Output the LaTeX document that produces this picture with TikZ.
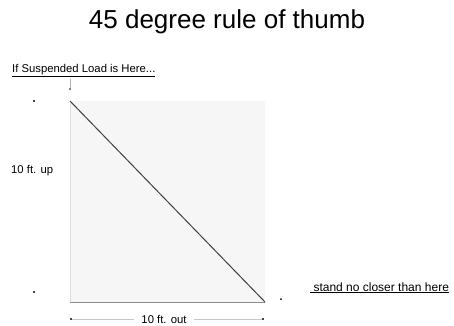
\documentclass[tikz,border=0pt]{standalone}
\usepackage{fontspec}
\setmainfont{Liberation Sans}
\usetikzlibrary{positioning}
\definecolor{stipple}{gray}{0.965}
\definecolor{edgegray}{gray}{0.55}

\begin{document}
\begin{tikzpicture}[x=1pt, y=-1pt,
  lbl/.style={font=\fontsize{11.3}{13}\selectfont, inner sep=0pt},
  dot/.style={circle, fill=black, inner sep=0pt, minimum size=2.4pt},
  edge/.style={draw=edgegray, line width=0.9pt},
  dimline/.style={draw=gray!45, line width=0.7pt},
]
\useasboundingbox (0,0) rectangle (454,325);

% ---- Title ----
\node[font=\fontsize{26}{30}\selectfont, anchor=base] (title) at (227,28)
  {45 degree rule of thumb};

% ---- Load position ----
\node[lbl, anchor=base west] (load) at (12,72)
  {\underline{If Suspended Load is Here...}};
\coordinate (tick) at (70,79);
\node[dot, minimum size=1.8pt] (tickend) at (70,89) {};
\draw[gray!60, line width=0.6pt] (tick) -- (tickend);

% ---- Square and 45 degree line ----
\coordinate (tl) at (70,101);
\coordinate (bl) at (70,302);
\coordinate (br) at (265,302);
\coordinate (tr) at (265,101);
\fill[stipple] (tl) rectangle (br);
\draw[gray!25, line width=0.7pt] (tl) -- (bl);
\draw[edge] (bl) -- (br);
\draw[black!75, line width=1pt] (tl) -- (br);

% ---- Height ----
\node[dot] (up1) at (34,101) {};
\node[dot] (up2) at (34,292) {};
\node[lbl, anchor=west] (uplbl) at (11,171) {10 ft. up};

% ---- Stand position ----
\node[dot, minimum size=2pt] (stand) at (281,299) {};
\node[font=\fontsize{12}{14}\selectfont, inner sep=0pt, anchor=base west] (standlbl)
  at (310,291) {\underline{\ stand no closer than here}};

% ---- Distance out ----
\node[dot] (out1) at (71,319) {};
\node[dot] (out2) at (263,319) {};
\draw[dimline] (out1) -- node[lbl, fill=white, inner xsep=7pt, xshift=-3pt] (outlbl) {10 ft. out} (out2);

\end{tikzpicture}
\end{document}
